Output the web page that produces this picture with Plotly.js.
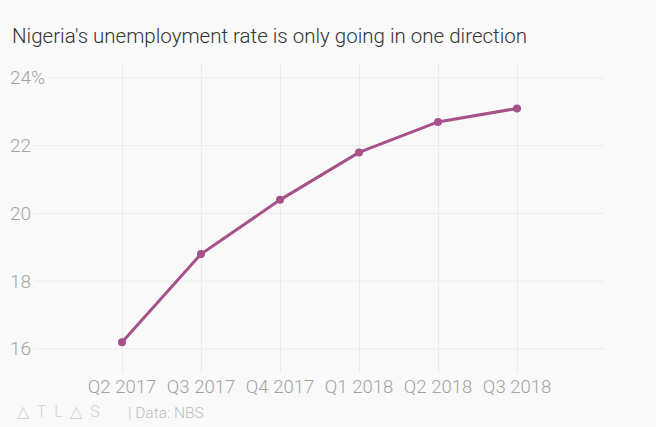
<!DOCTYPE html>
<html>
<head>
<meta charset="utf-8">
<script src="https://cdn.plot.ly/plotly-3.0.1.min.js"></script>
<style>
html,body{margin:0;padding:0;background:#f9f9f9;}
#chart{width:656px;height:427px;}
</style>
</head>
<body>
<div id="chart"></div>
<script>
const quarters = ["Q2 2017", "Q3 2017", "Q4 2017", "Q1 2018", "Q2 2018", "Q3 2018"];
const unemploymentRate = [16.2, 18.8, 20.4, 21.8, 22.7, 23.1];
const yTickVals = [16, 18, 20, 22, 24];
const yTickText = ["16", "18", "20", "22", "24%"];

const FONT = "Roboto, 'Open Sans', sans-serif";
const tickFontSize = 19;
const plotLeft = 8, plotRight = 604;
const plotWidth = plotRight - plotLeft;

const ctx = document.createElement("canvas").getContext("2d");
ctx.font = "300 " + tickFontSize + "px Roboto";

const shapes = [];
const annotations = [];
yTickVals.forEach((v, i) => {
  const w = ctx.measureText(yTickText[i]).width;
  annotations.push({
    xref: "paper", yref: "y", x: 0, y: v, xanchor: "left", yanchor: "middle",
    text: yTickText[i], showarrow: false,
    font: {family: FONT, size: tickFontSize, color: "#a3a3a3", weight: 300}
  });
  shapes.push({
    type: "line", xref: "paper", yref: "y", x0: (w + 5) / plotWidth, x1: 1, y0: v, y1: v,
    line: {color: "#ebebeb", width: 1}, layer: "below"
  });
});

annotations.push({
  xref: "paper", yref: "paper", x: 0, y: 1, xshift: 2, yshift: 27,
  xanchor: "left", yanchor: "middle", showarrow: false,
  text: "Nigeria's unemployment rate is only going in one direction",
  font: {family: FONT, size: 20.5, color: "#333333", weight: 300}
});
annotations.push({
  xref: "paper", yref: "paper", x: 0, y: 0, xshift: 7, yshift: -38,
  xanchor: "left", yanchor: "middle", showarrow: false,
  text: "△&nbsp;&nbsp;T&nbsp;&nbsp;L&nbsp;&nbsp;△&nbsp;&nbsp;S",
  font: {family: FONT, size: 16, color: "#d2d2d2", weight: 300}
});
annotations.push({
  xref: "paper", yref: "paper", x: 0, y: 0, xshift: 118, yshift: -40,
  xanchor: "left", yanchor: "middle", showarrow: false,
  text: "| Data: NBS",
  font: {family: FONT, size: 15.5, color: "#bdbdbd", weight: 300}
});

const trace = {
  x: quarters, y: unemploymentRate, type: "scatter", mode: "lines+markers",
  line: {color: "#a6518a", width: 3},
  marker: {color: "#a6518a", size: 8},
  hoverinfo: "skip"
};

const layout = {
  width: 656, height: 427,
  paper_bgcolor: "#f9f9f9", plot_bgcolor: "#f9f9f9",
  margin: {l: plotLeft, r: 656 - plotRight, t: 63, b: 54},
  showlegend: false,
  xaxis: {
    type: "category", range: [-1.443, 6.101],
    showgrid: true, gridcolor: "#ebebeb", gridwidth: 1,
    zeroline: false, showline: false, ticks: "",
    tickfont: {family: FONT, size: 18.5, color: "#a3a3a3", weight: 300}
  },
  yaxis: {
    range: [15.29, 24.44],
    showgrid: false, zeroline: false, showline: false, showticklabels: false, ticks: ""
  },
  shapes: shapes,
  annotations: annotations,
  font: {family: FONT}
};

Plotly.newPlot("chart", [trace], layout, {displayModeBar: false, staticPlot: true});
</script>
</body>
</html>
